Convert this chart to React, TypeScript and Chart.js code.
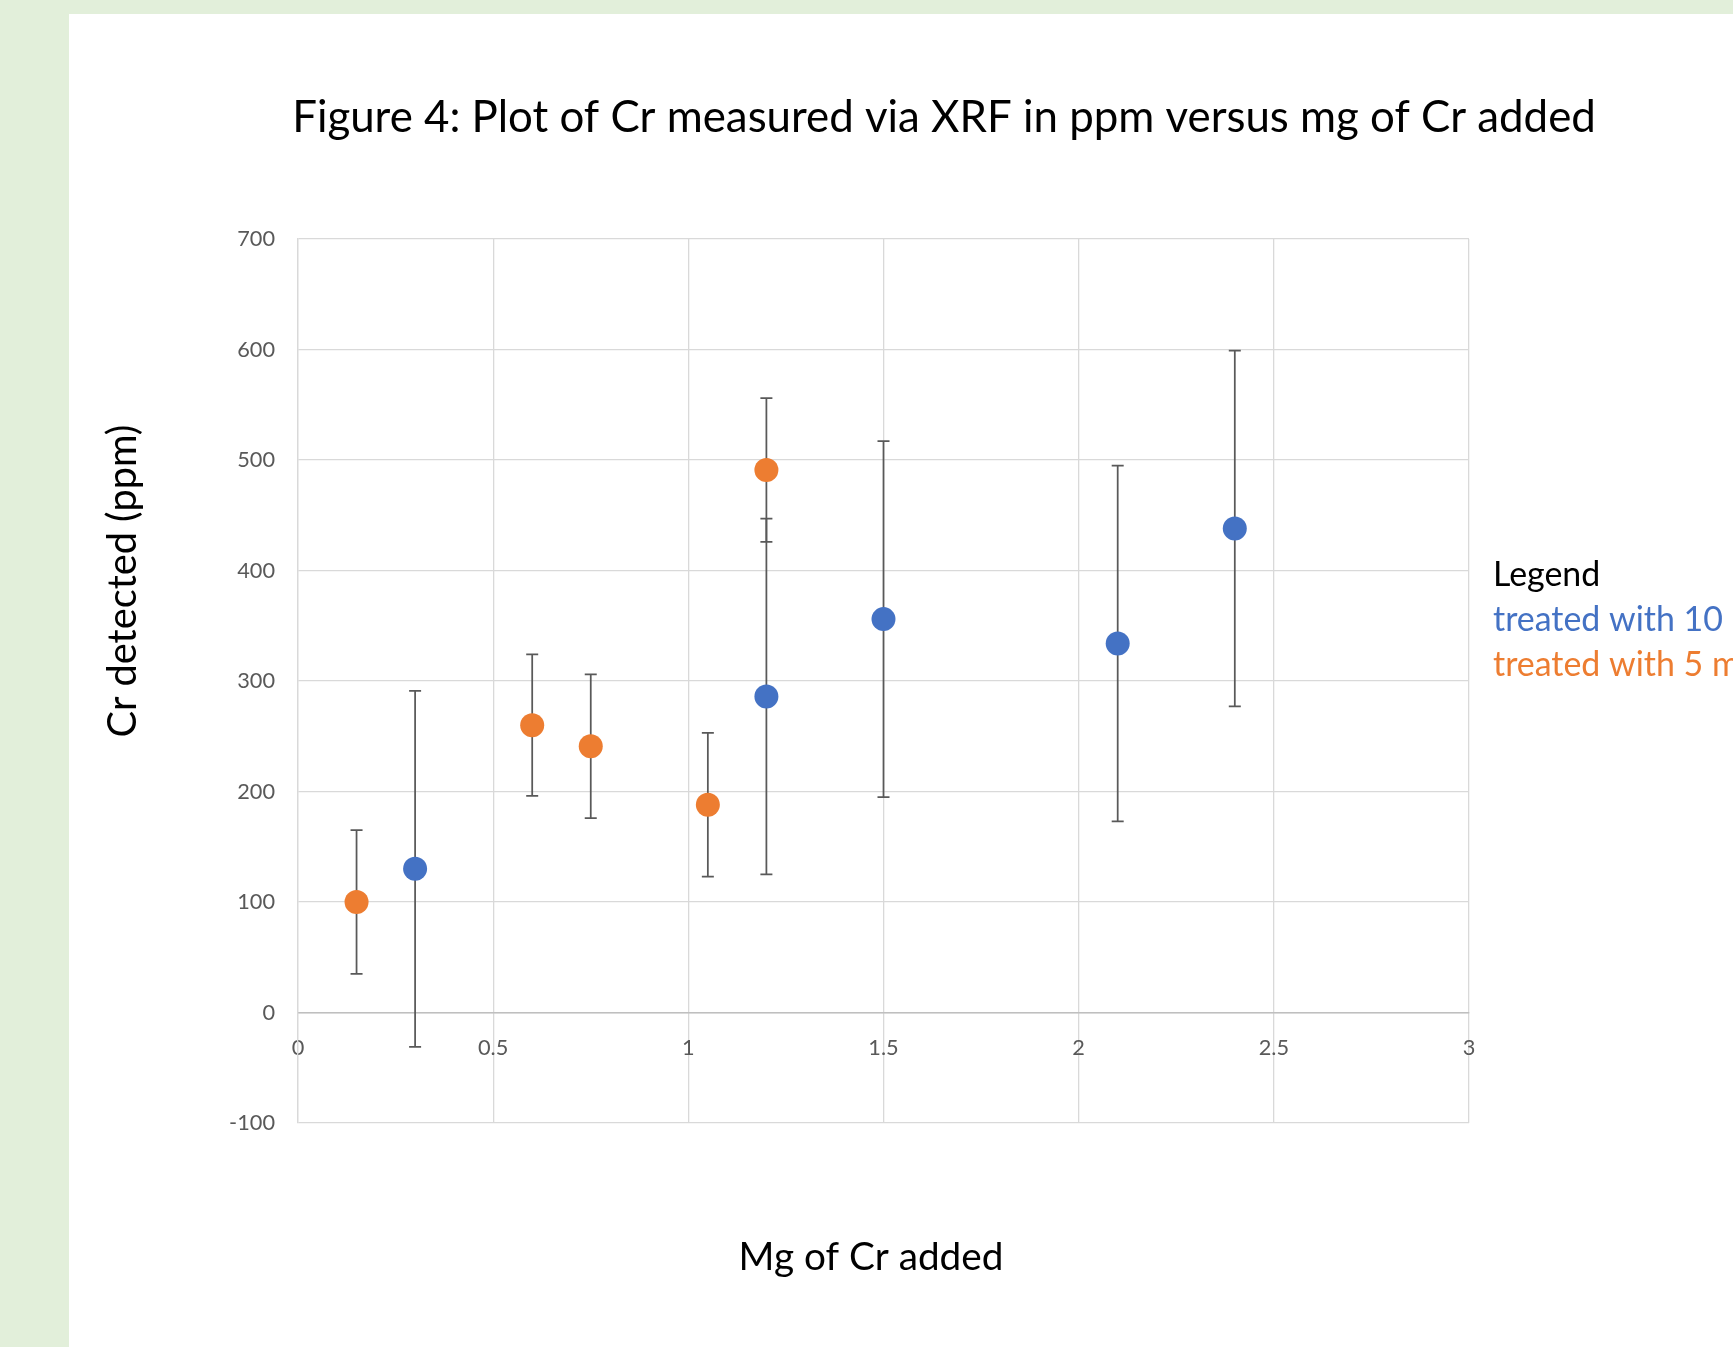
import { useEffect, useRef } from "react";
import { Chart, registerables } from "chart.js";

Chart.register(...registerables);

// ---- data ----
const seriesLabels = ["treated with 10 mL", "treated with 5 mL"];
const blueX = [0.3, 1.2, 1.5, 2.1, 2.4];
const blueY = [130, 286, 356, 334, 438];
const blueErr = [161, 161, 161, 161, 161];
const orangeX = [0.15, 0.6, 0.75, 1.05, 1.2];
const orangeY = [100, 260, 241, 188, 491];
const orangeErr = [65, 64, 65, 65, 65];

const xMin = 0;
const xMax = 3;
const xStep = 0.5;
const yMin = -100;
const yMax = 700;
const yStep = 100;

const titleText = "Figure 4: Plot of Cr measured via XRF in ppm versus mg of Cr added";
const xTitleText = "Mg of Cr added";
const yTitleText = "Cr detected (ppm)";
const legendTitleText = "Legend";

// ---- styles ----
const BLUE = "#4472C4";
const ORANGE = "#ED7D31";
const GRID = "#d9d9d9";
const TICK = "#595959";
const FAMILY = "Lato";
const CW = 1750;
const CH = 1333;

function fitSize(text: string, target: number) {
  const c = document.createElement("canvas").getContext("2d")!;
  c.font = `normal 100px ${FAMILY}`;
  return (100 * target) / c.measureText(text).width;
}

export default function App() {
  const ref = useRef<HTMLCanvasElement | null>(null);

  useEffect(() => {
    const canvas = ref.current!;
    const titleSize = fitSize(titleText, 1304);
    const yTitleSize = fitSize(yTitleText, 313);
    const xTitleSize = fitSize(xTitleText, 265);
    const legendSize = fitSize("treated with 10", 230);
    const tickSize = fitSize("700", 35.7) * 1.06;

    const errors = [blueErr, orangeErr];
    const colors = [BLUE, ORANGE];

    const errorBars = {
      id: "errorBars",
      beforeDatasetsDraw(chart: any) {
        const { ctx } = chart;
        const xs = chart.scales.x;
        const ys = chart.scales.y;
        ctx.save();
        ctx.strokeStyle = TICK;
        ctx.lineWidth = 1.75;
        chart.data.datasets.forEach((ds: any, di: number) => {
          ds.data.forEach((p: any, i: number) => {
            const e = errors[di][i];
            const px = xs.getPixelForValue(p.x);
            const top = ys.getPixelForValue(p.y + e);
            const bot = ys.getPixelForValue(p.y - e);
            ctx.beginPath();
            ctx.moveTo(px, top);
            ctx.lineTo(px, bot);
            ctx.moveTo(px - 6, top);
            ctx.lineTo(px + 6, top);
            ctx.moveTo(px - 6, bot);
            ctx.lineTo(px + 6, bot);
            ctx.stroke();
          });
        });
        ctx.restore();
      },
    };

    const annotations = {
      id: "annotations",
      afterDraw(chart: any) {
        const { ctx } = chart;
        ctx.save();
        ctx.fillStyle = "#000";
        ctx.textBaseline = "middle";
        // main title
        ctx.textAlign = "center";
        ctx.font = `normal ${titleSize}px ${FAMILY}`;
        ctx.fillText(titleText, CW / 2, 104);
        // y title
        ctx.save();
        ctx.translate(54, 567);
        ctx.rotate(-Math.PI / 2);
        ctx.textAlign = "center";
        ctx.font = `normal ${yTitleSize}px ${FAMILY}`;
        ctx.fillText(yTitleText, 0, 0);
        ctx.restore();
        // x title
        ctx.textAlign = "center";
        ctx.font = `normal ${xTitleSize}px ${FAMILY}`;
        ctx.fillText(xTitleText, 802, 1244);
        // legend
        ctx.textAlign = "left";
        ctx.font = `normal ${legendSize}px ${FAMILY}`;
        ctx.fillStyle = "#000";
        ctx.fillText(legendTitleText, 1424, 561);
        chart.data.datasets.forEach((ds: any, di: number) => {
          ctx.fillStyle = colors[di];
          ctx.fillText(ds.label, 1424, 606 + di * 45.3);
        });
        ctx.restore();
      },
    };

    const chart = new Chart(canvas, {
      type: "scatter",
      data: {
        datasets: [
          {
            label: seriesLabels[0],
            data: blueX.map((x, i) => ({ x, y: blueY[i] })),
            backgroundColor: BLUE,
            borderWidth: 0,
            pointRadius: 12,
            pointHoverRadius: 12,
          },
          {
            label: seriesLabels[1],
            data: orangeX.map((x, i) => ({ x, y: orangeY[i] })),
            backgroundColor: ORANGE,
            borderWidth: 0,
            pointRadius: 12,
            pointHoverRadius: 12,
          },
        ],
      },
      options: {
        responsive: false,
        animation: false,
        devicePixelRatio: 1,
        layout: { padding: { left: 0, right: 350, top: 225, bottom: 224 } },
        plugins: {
          legend: { display: false },
          tooltip: { enabled: false },
          title: { display: false },
        },
        scales: {
          x: {
            type: "linear",
            position: { y: 0 } as any,
            min: xMin,
            max: xMax,
            ticks: {
              stepSize: xStep,
              color: TICK,
              padding: 22,
              font: { family: FAMILY, size: tickSize },
              callback: (v: any) => `${+v}`,
            },
            grid: { color: GRID, lineWidth: 1.3, drawTicks: false },
            border: { display: true, color: "#bfbfbf", width: 1.5 },
          },
          y: {
            type: "linear",
            position: "left",
            min: yMin,
            max: yMax,
            afterFit: (s: any) => {
              s.width = 229;
            },
            ticks: {
              stepSize: yStep,
              color: TICK,
              padding: 23,
              font: { family: FAMILY, size: tickSize },
            },
            grid: { color: GRID, lineWidth: 1.3, drawTicks: false },
            border: { display: true, color: GRID, width: 1.3 },
          },
        },
      },
      plugins: [errorBars, annotations],
    });
    return () => chart.destroy();
  }, []);

  return (
    <div
      style={{
        position: "fixed",
        left: 0,
        top: 0,
        width: 1733,
        height: 1347,
        overflow: "hidden",
        background: "#E2EFDA",
      }}
    >
      <canvas
        ref={ref}
        width={CW}
        height={CH}
        style={{
          position: "absolute",
          left: 69,
          top: 14,
          width: CW,
          height: CH,
          background: "#fff",
          display: "block",
        }}
      />
    </div>
  );
}
